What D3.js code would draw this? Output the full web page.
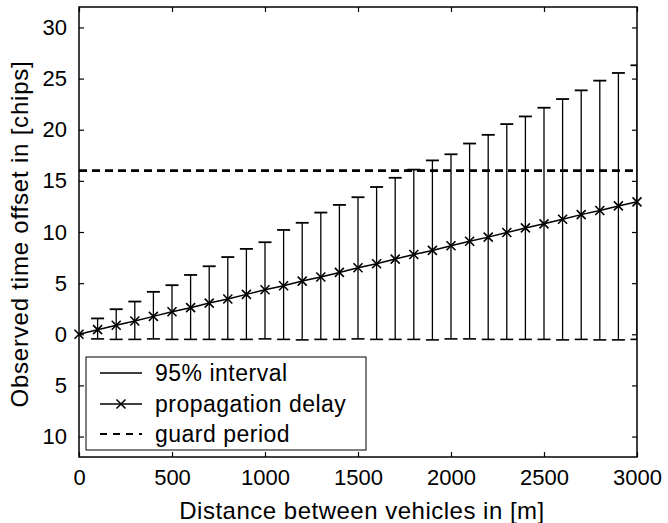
<!DOCTYPE html>
<html>
<head>
<meta charset="utf-8">
<script src="https://cdn.jsdelivr.net/npm/d3@7"></script>
<style>
  body { margin: 0; background: #fff; }
  text { font-family: "Liberation Sans", Arial, Helvetica, sans-serif; fill: #000; }
</style>
</head>
<body>
<div id="chart"></div>
<script>
// distances in metres
const distances = [0, 100, 200, 300, 400, 500, 600, 700, 800, 900, 1000,
  1100, 1200, 1300, 1400, 1500, 1600, 1700, 1800, 1900, 2000,
  2100, 2200, 2300, 2400, 2500, 2600, 2700, 2800, 2900, 3000];
// mean propagation delay in chips
const delay = [0, 0.45, 0.88, 1.3, 1.75, 2.2, 2.6, 3.05, 3.45, 3.9, 4.35,
  4.75, 5.2, 5.6, 6.05, 6.5, 6.9, 7.35, 7.8, 8.2, 8.65,
  9.1, 9.5, 9.95, 10.4, 10.8, 11.25, 11.7, 12.1, 12.55, 12.95];
// 95% interval bounds
const upper = [0, 1.55, 2.45, 3.2, 4.15, 4.8, 5.8, 6.65, 7.55, 8.35, 9.0,
  10.2, 10.9, 11.9, 12.65, 13.4, 14.4, 15.3, 16.1, 17.0, 17.6,
  18.65, 19.5, 20.55, 21.3, 22.15, 23.0, 23.85, 24.8, 25.55, 26.3];
const lower = [0, -0.45, -0.5, -0.5, -0.45, -0.5, -0.5, -0.5, -0.5, -0.5, -0.45,
  -0.5, -0.55, -0.5, -0.5, -0.45, -0.5, -0.5, -0.5, -0.55, -0.45,
  -0.45, -0.5, -0.5, -0.5, -0.5, -0.55, -0.5, -0.55, -0.55, -0.5];
const guardPeriod = 16;

const xTicks = [0, 500, 1000, 1500, 2000, 2500, 3000];
const yTicks = [-10, -5, 0, 5, 10, 15, 20, 25, 30];
const legendLabels = ['95% interval', 'propagation delay', 'guard period'];

const W = 668, H = 523;
const MARGIN = {TOP: 7, RIGHT: 31, BOTTOM: 66, LEFT: 79};
const WIDTH = W - MARGIN.LEFT - MARGIN.RIGHT;
const HEIGHT = H - MARGIN.TOP - MARGIN.BOTTOM;

const svg = d3.select('#chart').append('svg')
  .attr('width', W).attr('height', H);
const g = svg.append('g')
  .attr('transform', `translate(${MARGIN.LEFT},${MARGIN.TOP})`);

const x = d3.scaleLinear().domain([0, 3000]).range([0, WIDTH]);
const y = d3.scaleLinear().domain([-12, 32]).range([HEIGHT, 0]);

g.append('clipPath').attr('id', 'clip')
  .append('rect').attr('width', WIDTH).attr('height', HEIGHT);

const pts = distances.map((d, i) => ({d, m: delay[i], hi: upper[i], lo: lower[i]}));
const plot = g.append('g').attr('clip-path', 'url(#clip)');

// guard period
plot.append('line')
  .attr('x1', 0).attr('x2', WIDTH)
  .attr('y1', y(guardPeriod)).attr('y2', y(guardPeriod))
  .attr('stroke', '#000').attr('stroke-width', 2.6)
  .attr('stroke-dasharray', '8,5');

// error bars
const CAP = 6.5;
const bars = plot.selectAll('.bar').data(pts.filter(p => p.hi !== p.lo))
  .enter().append('g').attr('class', 'bar')
  .attr('stroke', '#000').attr('stroke-width', 1.3);
bars.append('line')
  .attr('x1', p => x(p.d)).attr('x2', p => x(p.d))
  .attr('y1', p => y(p.lo)).attr('y2', p => y(p.hi));
bars.append('line')
  .attr('x1', p => x(p.d) - CAP).attr('x2', p => x(p.d) + CAP)
  .attr('y1', p => y(p.hi)).attr('y2', p => y(p.hi)).attr('stroke-width', 1.8);
bars.append('line')
  .attr('x1', p => x(p.d) - CAP).attr('x2', p => x(p.d) + CAP)
  .attr('y1', p => y(p.lo)).attr('y2', p => y(p.lo)).attr('stroke-width', 1.6);

// propagation delay line + x markers
const line = d3.line().x(p => x(p.d)).y(p => y(p.m));
g.append('path').datum(pts)
  .attr('d', line).attr('fill', 'none')
  .attr('stroke', '#000').attr('stroke-width', 1.5);
const M = 4.5;
const cross = (cx, cy) => `M${cx - M},${cy - M}L${cx + M},${cy + M}M${cx - M},${cy + M}L${cx + M},${cy - M}`;
g.selectAll('.mk').data(pts).enter().append('path')
  .attr('class', 'mk')
  .attr('d', p => cross(x(p.d), y(p.m)))
  .attr('stroke', '#000').attr('stroke-width', 1.6);

// axes (box with inward ticks)
const TICK = 5;
const fmtY = d => String(Math.abs(d));
g.append('g').attr('transform', `translate(0,${HEIGHT})`)
  .call(d3.axisBottom(x).tickValues(xTicks).tickSizeInner(-TICK).tickSizeOuter(0)
    .tickPadding(12).tickFormat(d3.format('d')));
g.append('g')
  .call(d3.axisTop(x).tickValues(xTicks).tickSizeInner(-TICK).tickSizeOuter(0).tickFormat(''));
g.append('g')
  .call(d3.axisLeft(y).tickValues(yTicks).tickSizeInner(-TICK).tickSizeOuter(0).tickPadding(12).tickFormat(fmtY));
g.append('g').attr('transform', `translate(${WIDTH},0)`)
  .call(d3.axisRight(y).tickValues(yTicks).tickSizeInner(-TICK).tickSizeOuter(0).tickFormat(''));
g.selectAll('.domain').remove();
g.selectAll('.tick line').attr('stroke', '#000').attr('stroke-width', 1.2);
g.selectAll('.tick text').attr('font-size', 22).attr('fill', '#000')
  .attr('font-family', '"Liberation Sans", Arial, sans-serif');
g.append('rect').attr('width', WIDTH).attr('height', HEIGHT)
  .attr('fill', 'none').attr('stroke', '#000').attr('stroke-width', 1.5);

// axis labels
svg.append('text')
  .attr('x', 362).attr('y', 519)
  .attr('text-anchor', 'middle').attr('font-size', 24)
  .attr('letter-spacing', 0.5)
  .text('Distance between vehicles in [m]');
svg.append('text')
  .attr('transform', `translate(28,234) rotate(-90)`)
  .attr('text-anchor', 'middle').attr('font-size', 24)
  .attr('letter-spacing', 0.8)
  .text('Observed time offset in [chips]');

// legend
const lg = svg.append('g').attr('transform', 'translate(86,357)');
lg.append('rect').attr('width', 280).attr('height', 93)
  .attr('fill', '#fff').attr('stroke', '#000').attr('stroke-width', 1);
const rows = [16, 47, 77];
lg.selectAll('.lt').data(legendLabels).enter().append('text')
  .attr('x', 69).attr('y', (d, i) => rows[i] + 8)
  .attr('font-size', 23).attr('letter-spacing', 0.5).text(d => d);
lg.append('line').attr('x1', 14).attr('x2', 56).attr('y1', rows[0]).attr('y2', rows[0])
  .attr('stroke', '#000').attr('stroke-width', 1.3);
lg.append('line').attr('x1', 14).attr('x2', 56).attr('y1', rows[1]).attr('y2', rows[1])
  .attr('stroke', '#000').attr('stroke-width', 1.5);
lg.append('path').attr('d', cross(35, rows[1])).attr('stroke', '#000').attr('stroke-width', 1.5);
lg.append('line').attr('x1', 14).attr('x2', 56).attr('y1', rows[2]).attr('y2', rows[2])
  .attr('stroke', '#000').attr('stroke-width', 2.2).attr('stroke-dasharray', '7,6');
</script>
</body>
</html>
